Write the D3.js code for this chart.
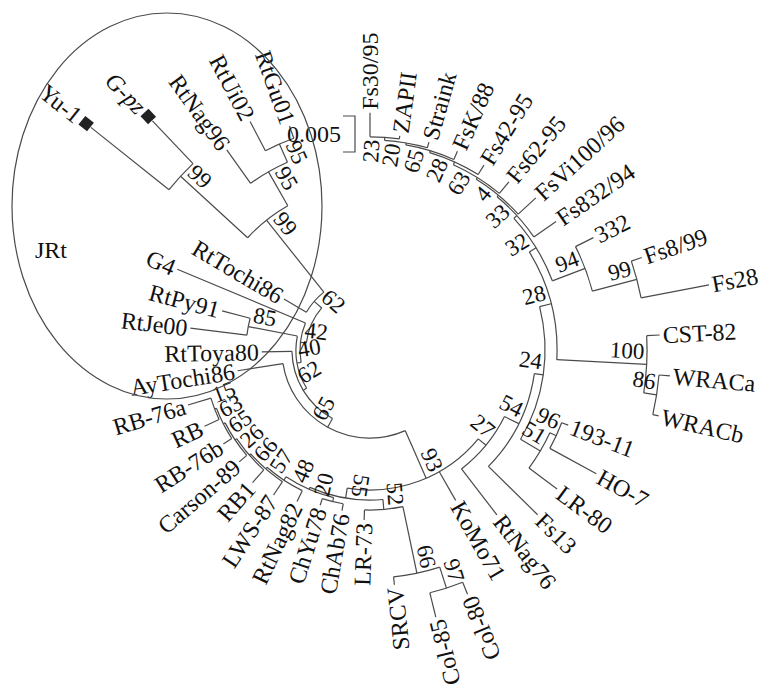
<!DOCTYPE html>
<html>
<head>
<meta charset="utf-8">
<script src="https://cdnjs.cloudflare.com/ajax/libs/d3/7.8.5/d3.min.js"></script>
<style>
  body { margin: 0; background: #fff; }
  svg { display: block; }
  text { font-family: "Liberation Serif", "Times New Roman", serif; fill: #111; }
</style>
</head>
<body>
<svg id="chart" width="761" height="689"></svg>
<script>
// ---- Tree data -------------------------------------------------------
// Terminal taxa and the length of their terminal branch (substitutions/site)
const taxa = [
  "Fs30/95", "ZAPII", "Straink", "FsK/88", "Fs42-95", "Fs62-95", "FsVi100/96", "Fs832/94",
  "332", "Fs8/99", "Fs28", "CST-82", "WRACa", "WRACb", "193-11", "HO-7", "LR-80",
  "Fs13", "RtNag76", "KoMo71", "Col-80", "Col-85", "SRCV", "LR-73", "ChAb76", "ChYu78",
  "RtNag82", "LWS-87", "RB1", "Carson-89", "RB-76b", "RB", "RB-76a", "AyTochi86",
  "RtToya80", "RtJe00", "RtPy91", "G4", "RtTochi86", "Yu-1", "G-pz", "RtNag96", "RtUi02", "RtGu01"
];
const tipLengths = [
  0.00333, 0.00042, 0.00083, 0.00125, 0.00153, 0.00208, 0.00333, 0.00375,
  0.00278, 0.00153, 0.00960, 0.00181, 0.00153, 0.00083, 0.00097, 0.00736, 0.00486,
  0.00958, 0.00806, 0.00458, 0.00181, 0.00347, 0.00111, 0.00139, 0.00097, 0.00097,
  0.00167, 0.00222, 0.00236, 0.00139, 0.00139, 0.00222, 0.00333, 0.00639,
  0.00420, 0.00792, 0.00403, 0.01931, 0.00361, 0.01389, 0.00819, 0.00569, 0.00458, 0.00180
];
// Taxa marked with a filled square
const markedTaxa = ["Yu-1", "G-pz"];
const italicTaxa = ["G-pz"];

// Internal nodes: id, children (clockwise), branch length, bootstrap (%)
const clades = [
  ["root", ["N42", "NTJ"], 0.00889, null],
  ["N42", ["N40", "G4"], 0.00083, 42],
  ["N40", ["N62", "N85"], 0.00056, 40],
  ["N62", ["N65", "RtToya80"], 0.00056, 62],
  ["N65", ["N93", "AyTochi86"], 0.00139, 65],
  ["N93", ["R12", "KoMo71", "B9"], 0.00722, 93],
  ["R12", ["R11", "RtNag76"], 0.00139, 27],
  ["R11", ["R10", "Fs13"], 0.00222, 54],
  ["R10", ["R9", "C193"], 0.00125, 24],
  ["C193", ["C96", "LR-80"], 0.00319, 51],
  ["C96", ["193-11", "HO-7"], 0.00097, 96],
  ["R9", ["R8", "CCST"], 0.00167, 28],
  ["CCST", ["CST-82", "CW"], 0.01250, 100],
  ["CW", ["WRACa", "WRACb"], 0.00181, 86],
  ["R8", ["R7", "C332"], 0.00111, 32],
  ["C332", ["332", "C99"], 0.00486, 94],
  ["C99", ["Fs8/99", "Fs28"], 0.00639, 99],
  ["R7", ["R6", "Fs832/94"], 0.00056, 33],
  ["R6", ["R5", "FsVi100/96"], 0.00028, 4],
  ["R5", ["R4", "Fs62-95"], 0.00028, 63],
  ["R4", ["R3", "Fs42-95"], 0.00042, 28],
  ["R3", ["R2", "FsK/88"], 0.00028, 65],
  ["R2", ["R1", "Straink"], 0.00028, 20],
  ["R1", ["Fs30/95", "ZAPII"], 0.00042, 23],
  ["B9", ["P", "B7"], 0.00139, 55],
  ["P", ["CSR", "LR-73"], 0.00139, 52],
  ["CSR", ["CCol", "SRCV"], 0.00944, 66],
  ["CCol", ["Col-80", "Col-85"], 0.00306, 97],
  ["B7", ["CCh", "B6"], 0.00028, 48],
  ["CCh", ["ChAb76", "ChYu78"], 0.00056, 20],
  ["B6", ["RtNag82", "B5"], 0.00056, 57],
  ["B5", ["LWS-87", "B4"], 0.00028, 66],
  ["B4", ["RB1", "B3"], 0.00028, 26],
  ["B3", ["Carson-89", "B2"], 0.00028, 65],
  ["B2", ["RB-76b", "B1"], 0.00028, 63],
  ["B1", ["RB", "RB-76a"], 0.00028, 15],
  ["N85", ["RtJe00", "RtPy91"], 0.00694, 85],
  ["NTJ", ["RtTochi86", "JRt"], 0.00139, 62],
  ["JRt", ["YG", "RN"], 0.01278, 99],
  ["YG", ["Yu-1", "G-pz"], 0.01264, 99],
  ["RN", ["RtNag96", "UG"], 0.00542, 95],
  ["UG", ["RtUi02", "RtGu01"], 0.00278, 95]
];
const scaleBarValue = 0.005;
const groupLabel = "JRt";

// ---- Build hierarchy ---------------------------------------------------
const cladeMap = new Map(clades.map(c => [c[0], c]));
const tipMap = new Map(taxa.map((t, i) => [t, tipLengths[i]]));
function build(id) {
  if (cladeMap.has(id)) {
    const [name, kids, len, boot] = cladeMap.get(id);
    return { name, len, boot, children: kids.map(build) };
  }
  return { name: id, len: tipMap.get(id), leaf: true };
}
const root = d3.hierarchy(build("root"));

// ---- Layout ------------------------------------------------------------
const svg = d3.select("#chart");
const cx = 370, cy = 350;
const nLeaves = taxa.length;
const slot = 360 / (nLeaves + 1.5);             // angular spacing of tips (deg)
d3.cluster().size([slot * nLeaves, 1]).separation(() => 1)(root);
root.each(d => { d.theta = d.x - slot / 2; });   // first tip at 12 o'clock

const rScale = d3.scaleLinear().domain([0, scaleBarValue]).range([0, 36]);
root.eachBefore(d => { d.rad = (d.parent ? d.parent.rad : 0) + rScale(d.data.len); });

const rad = deg => deg * Math.PI / 180;
const pol = (r, th) => [cx + r * Math.sin(rad(th)), cy - r * Math.cos(rad(th))];

const g = svg.append("g");
const stroke = "#4a4a4a";
const sw = 1.2;

// arcs joining the children of each internal node
g.selectAll("path.arc")
  .data(root.descendants().filter(d => d.children))
  .join("path")
  .attr("class", "arc")
  .attr("fill", "none")
  .attr("stroke", stroke)
  .attr("stroke-width", sw)
  .attr("d", d => {
    const a0 = d.children[0].theta, a1 = d.children[d.children.length - 1].theta;
    const p = d3.path();
    p.arc(cx, cy, d.rad, rad(a0 - 90), rad(a1 - 90), false);
    return p.toString();
  });

// radial branches
g.selectAll("line.branch")
  .data(root.descendants().filter(d => d.parent))
  .join("line")
  .attr("class", "branch")
  .attr("stroke", stroke)
  .attr("stroke-width", sw)
  .each(function (d) {
    const [x1, y1] = pol(d.parent.rad, d.theta);
    const [x2, y2] = pol(d.rad, d.theta);
    d3.select(this).attr("x1", x1).attr("y1", y1).attr("x2", x2).attr("y2", y2);
  });

// square markers
const marked = root.leaves().filter(d => markedTaxa.includes(d.data.name));
g.selectAll("rect.mark")
  .data(marked)
  .join("rect")
  .attr("class", "mark")
  .attr("x", -5.5).attr("y", -5.5).attr("width", 11).attr("height", 11)
  .attr("fill", "#222")
  .attr("transform", d => {
    const [x, y] = pol(d.rad + 6, d.theta);
    return `translate(${x},${y}) rotate(${d.theta - 90})`;
  });

// taxon labels
g.selectAll("text.taxon")
  .data(root.leaves())
  .join("text")
  .attr("class", "taxon")
  .attr("font-size", 24)
  .attr("font-style", d => italicTaxa.includes(d.data.name) ? "italic" : null)
  .attr("dy", "0.35em")
  .each(function (d) {
    const flip = d.theta > 153;
    const off = markedTaxa.includes(d.data.name) ? 15 : 3;
    const [x, y] = pol(d.rad + off, d.theta);
    d3.select(this)
      .attr("text-anchor", flip ? "end" : "start")
      .attr("transform", `translate(${x},${y}) rotate(${flip ? d.theta + 90 : d.theta - 90})`);
  })
  .text(d => d.data.name);

// bootstrap values
g.selectAll("text.boot")
  .data(root.descendants().filter(d => d.children && d.data.boot != null && d !== root))
  .join("text")
  .attr("class", "boot")
  .attr("font-size", 23)
  .attr("dy", "-0.22em")
  .each(function (d) {
    const flip = d.theta > 192;
    const [x, y] = pol(d.rad - 3, d.theta);
    d3.select(this)
      .attr("text-anchor", flip ? "start" : "end")
      .attr("transform", `translate(${x},${y}) rotate(${flip ? d.theta + 90 : d.theta - 90})`);
  })
  .text(d => d.data.boot);

// scale bar
const barLen = rScale(scaleBarValue);
const bx = 355, by = 116;
g.append("path")
  .attr("fill", "none").attr("stroke", stroke).attr("stroke-width", sw)
  .attr("d", `M${bx - 12},${by}H${bx}V${by + barLen}H${bx - 12}`);
g.append("text")
  .attr("x", bx - 14).attr("y", by + barLen / 2).attr("dy", "0.35em")
  .attr("text-anchor", "end").attr("font-size", 24)
  .text(scaleBarValue);

// outline around the JRt group
g.append("ellipse")
  .attr("cx", 167).attr("cy", 206).attr("rx", 155).attr("ry", 193)
  .attr("fill", "none").attr("stroke", stroke).attr("stroke-width", sw);
g.append("text")
  .attr("x", 35).attr("y", 258).attr("font-size", 24)
  .text(groupLabel);
</script>
</body>
</html>
